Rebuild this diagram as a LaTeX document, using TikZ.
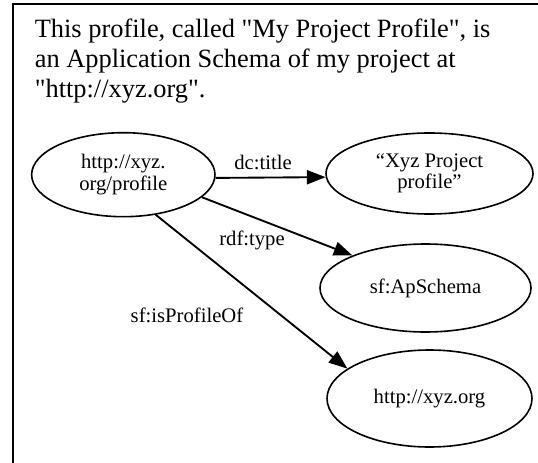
\documentclass[tikz,border=0pt]{standalone}
\usepackage{fontspec}
\setmainfont{Liberation Serif}[Ligatures=TeXOff]
\usetikzlibrary{shapes.geometric,arrows.meta}

\begin{document}
\begin{tikzpicture}
      [x=0.75pt,y=-0.75pt,
       every node/.style={ellipse,draw,line width=1.2pt,inner sep=0pt,align=center,
         font=\fontsize{15.5}{16}\selectfont},
       lbl/.style={draw=none,rectangle},
       rel/.style={line width=1.4pt,-{Triangle[length=14pt,width=10.5pt]}}]
      \useasboundingbox (0,0) rectangle (538,463);
      \draw [line width=1.5pt] (13,463) |- (538,4.5);

      \node [lbl,anchor=base west,align=left,font=\fontsize{19.8}{22.5}\selectfont] (caption) at (34,98)
        {This profile, called "My Project Profile", is\\an Application Schema of my project at\\"http://xyz.org".};

      \node [minimum width=137.5pt,minimum height=63pt] (profile) at (123.3,174.7) {http://xyz.\\org/profile};
      \node [minimum width=155.25pt,minimum height=60.75pt] (title) at (429.5,173.5) {“Xyz Project\\profile”};
      \node [minimum width=158.25pt,minimum height=66pt] (schema) at (425.5,288) {sf:ApSchema};
      \node [minimum width=153.75pt,minimum height=72.75pt] (project) at (429.5,398.5) {http://xyz.org};

      \draw [rel] (profile.-2.3) -- (title.182.7);
      \draw [rel] (profile.-16.4) -- (schema.156.9);
      \draw [rel] (profile.-51.5) -- (project.160.7);

      \node [lbl] (ltitle) at (263,162) {dc:title};
      \node [lbl] (ltype) at (252,240) {rdf:type};
      \node [lbl] (lprofileof) at (187,315) {sf:isProfileOf};
    \end{tikzpicture}
\end{document}
